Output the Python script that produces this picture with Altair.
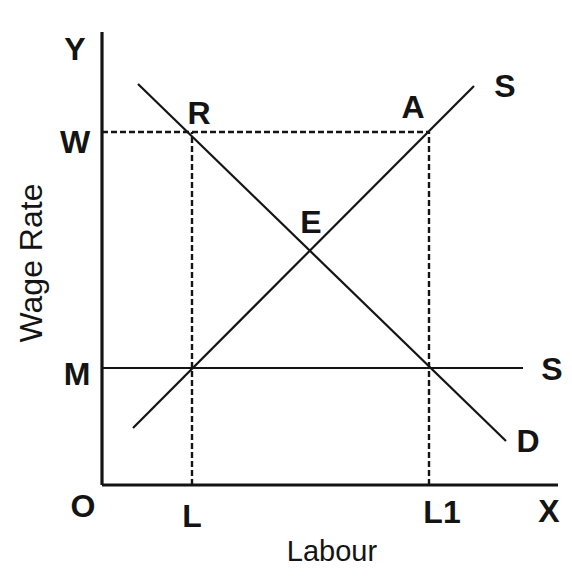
import altair as alt
import pandas as pd

# Line segments of the diagram (origin O at the axes' corner)
seg_name = ["Y axis", "X axis", "D", "S", "M-S", "W dash", "L dash", "L1 dash"]
seg_x1 = [0, 0, 36, 31, 0, 0, 90, 327]
seg_y1 = [0, 0, 401, 57, 117, 353, 0, 0]
seg_x2 = [0, 456, 404, 372, 421, 326, 90, 327]
seg_y2 = [453, 0, 44, 399, 117, 353, 353, 353]
seg_dashed = ["solid", "solid", "solid", "solid", "solid", "dash", "dash", "dash"]
seg_width = [3.2, 3.2, 2.2, 2.2, 2.2, 2.4, 2.4, 2.4]

# Point / curve labels
lab_text = ["Y", "W", "M", "O", "L", "L1", "X", "S", "S", "D", "R", "A", "E"]
lab_x = [-27, -27, -25, -19, 90, 340, 447, 403, 450, 426, 97, 311, 209]
lab_y = [435, 342, 110, -22, -32, -28, -27, 398, 115, 43, 371, 377, 262]

# Axis titles
title_text = ["Wage Rate", "Labour"]
title_x = [-70, 230]
title_y = [222, -67]
title_angle = [270, 0]

W, H = 556, 560
xdom = [-94, -94 + W]
ydom = [477 - H, 477]

segs = pd.DataFrame({
    "name": seg_name, "x1": seg_x1, "y1": seg_y1, "x2": seg_x2, "y2": seg_y2,
    "style": seg_dashed, "w": seg_width,
})
labs = pd.DataFrame({"t": lab_text, "x": lab_x, "y": lab_y})
titles = pd.DataFrame({"t": title_text, "x": title_x, "y": title_y, "a": title_angle})

xs = alt.Scale(domain=xdom, nice=False, zero=False)
ys = alt.Scale(domain=ydom, nice=False, zero=False)
col = "#141414"

solid = alt.Chart(segs).transform_filter(alt.datum.style == "solid").mark_rule(
    color=col, strokeCap="butt"
).encode(
    x=alt.X("x1:Q", scale=xs, axis=None),
    y=alt.Y("y1:Q", scale=ys, axis=None),
    x2="x2:Q", y2="y2:Q",
    strokeWidth=alt.StrokeWidth("w:Q", scale=None, legend=None),
)

dashed = alt.Chart(segs).transform_filter(alt.datum.style == "dash").mark_rule(
    color=col, strokeDash=[6, 3], strokeCap="butt"
).encode(
    x=alt.X("x1:Q", scale=xs, axis=None),
    y=alt.Y("y1:Q", scale=ys, axis=None),
    x2="x2:Q", y2="y2:Q",
    strokeWidth=alt.StrokeWidth("w:Q", scale=None, legend=None),
)

labels = alt.Chart(labs).mark_text(
    font="Liberation Sans", fontSize=32, fontWeight="bold", color=col,
    align="center", baseline="middle",
).encode(
    x=alt.X("x:Q", scale=xs, axis=None),
    y=alt.Y("y:Q", scale=ys, axis=None),
    text="t:N",
)

t_vert = alt.Chart(titles).transform_filter(alt.datum.a == 270).mark_text(
    font="Liberation Sans", fontSize=32, color=col, align="center",
    baseline="middle", angle=270,
).encode(
    x=alt.X("x:Q", scale=xs, axis=None),
    y=alt.Y("y:Q", scale=ys, axis=None),
    text="t:N",
)
t_horz = alt.Chart(titles).transform_filter(alt.datum.a == 0).mark_text(
    font="Liberation Sans", fontSize=29, color=col, align="center",
    baseline="middle",
).encode(
    x=alt.X("x:Q", scale=xs, axis=None),
    y=alt.Y("y:Q", scale=ys, axis=None),
    text="t:N",
)

chart = alt.layer(solid, dashed, labels, t_vert, t_horz).properties(
    width=W, height=H, padding=0,
    autosize=alt.AutoSizeParams(type="fit", contains="padding"),
    background="white",
).configure_view(stroke=None)

chart.save("out.html", embed_options={"renderer": "svg", "actions": False})
